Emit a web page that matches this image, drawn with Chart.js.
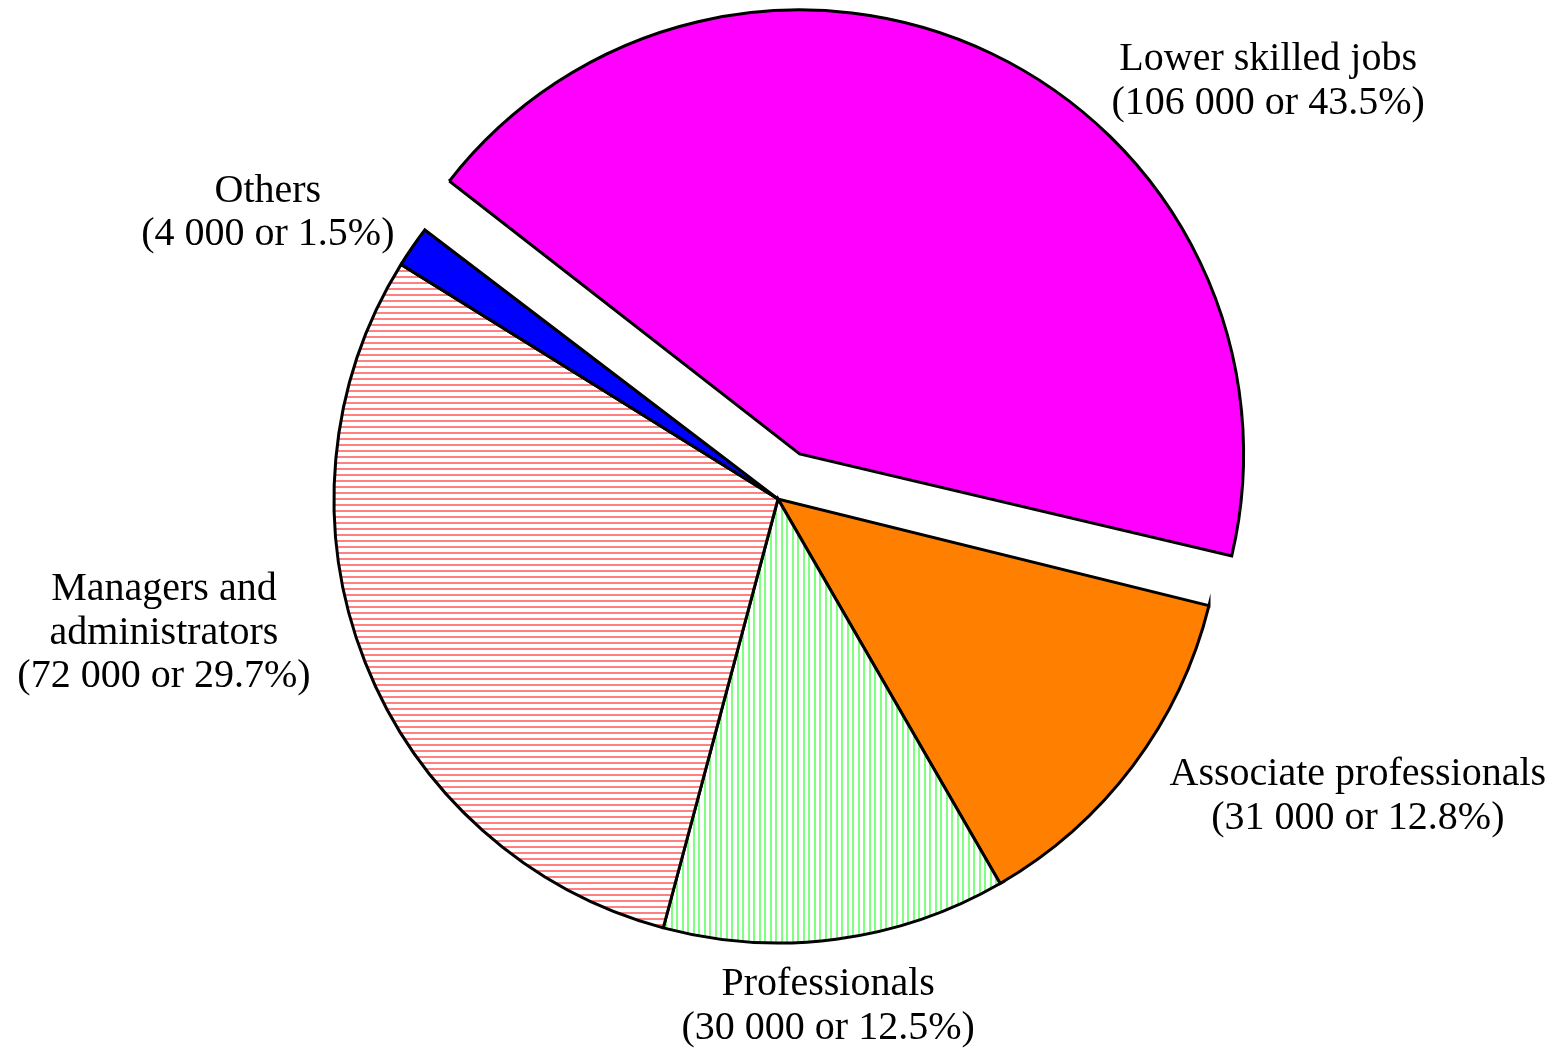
<!DOCTYPE html>
<html>
<head>
<meta charset="utf-8">
<script src="https://cdn.jsdelivr.net/npm/chart.js@4.4.1/dist/chart.umd.min.js"></script>
<style>
  html, body { margin: 0; padding: 0; background: #fff; }
  #wrap { width: 1556px; height: 1049px; position: relative; }
</style>
</head>
<body>
<div id="wrap"><canvas id="jobsPie"></canvas></div>
<script>
// categories, clockwise starting from the exploded slice
const categories = [
  ['Lower skilled jobs'],
  ['Associate professionals'],
  ['Professionals'],
  ['Managers and', 'administrators'],
  ['Others']
];
const jobCounts = [106000, 31000, 30000, 72000, 4000];
const jobShares = [43.5, 12.8, 12.5, 29.7, 1.5];

// label anchor relative to pie centre, in units of the radius
const labelAnchors = [
  [1.104, -0.940],
  [1.306, 0.670],
  [0.113, 1.143],
  [-1.383, 0.302],
  [-1.149, -0.644]
];

const explode = [50, 0, 0, 0, 0]; // px the slice is pulled out

function stripes(color, vertical, steps) {
  const c = document.createElement('canvas');
  const size = steps.reduce((a, b) => a + b, 0);
  c.width = vertical ? size : 8;
  c.height = vertical ? 8 : size;
  const g = c.getContext('2d');
  g.fillStyle = '#ffffff';
  g.fillRect(0, 0, c.width, c.height);
  g.fillStyle = color;
  let pos = 0;
  steps.forEach(s => {
    if (vertical) g.fillRect(pos, 0, 2, c.height);
    else g.fillRect(0, pos, c.width, 2);
    pos += s;
  });
  return g.createPattern(c, 'repeat');
}

function fmt(n) {
  return String(n).replace(/\B(?=(\d{3})+(?!\d))/g, ' ');
}

// chart.js grows an offset arc's radius a bit; undo that so the
// exploded slice keeps the same radius as the rest
const keepRadius = {
  id: 'keepRadius',
  afterDatasetUpdate(chart, args) {
    args.meta.data.forEach((arc, i) => {
      const off = explode[i] || 0;
      if (!off) return;
      const fix = 1 - Math.sin(Math.min(Math.PI, arc.circumference || 0));
      arc.outerRadius = args.meta.controller.outerRadius - off * fix;
    });
  }
};

const labelPlugin = {
  id: 'sliceLabels',
  afterDatasetsDraw(chart) {
    const ctx = chart.ctx;
    const meta = chart.getDatasetMeta(0);
    const R = meta.controller.outerRadius;
    ctx.save();
    ctx.font = '40px "Liberation Serif", "Times New Roman", serif';
    ctx.fillStyle = '#000';
    ctx.textAlign = 'center';
    ctx.textBaseline = 'middle';
    const lh = 43.5;
    meta.data.forEach((arc, i) => {
      const lines = categories[i].concat(['(' + fmt(jobCounts[i]) + ' or ' + jobShares[i].toFixed(1) + '%)']);
      const x = arc.x + labelAnchors[i][0] * R;
      const y = arc.y + labelAnchors[i][1] * R;
      const top = y - (lines.length - 1) * lh / 2;
      lines.forEach((t, k) => ctx.fillText(t, x, top + k * lh));
    });
    ctx.restore();
  }
};

new Chart(document.getElementById('jobsPie'), {
  type: 'pie',
  data: {
    labels: categories.map(c => c.join(' ')),
    datasets: [{
      data: jobShares,
      backgroundColor: [
        '#ff00ff',
        '#ff8000',
        stripes('#80ff80', true, [5, 6]),
        stripes('#ff8080', false, [6]),
        '#0000ff'
      ],
      borderColor: '#000000',
      borderWidth: 3,
      borderJoinStyle: 'miter',
      offset: explode.map(v => v * 4), // arc element draws offset / 4
      hoverOffset: 0
    }]
  },
  options: {
    responsive: true,
    maintainAspectRatio: false,
    animation: false,
    rotation: 307.3,
    radius: 444,
    layout: { padding: { top: 0, bottom: 51 } },
    plugins: {
      legend: { display: false },
      tooltip: { enabled: false }
    },
    events: []
  },
  plugins: [keepRadius, labelPlugin]
});
</script>
</body>
</html>
